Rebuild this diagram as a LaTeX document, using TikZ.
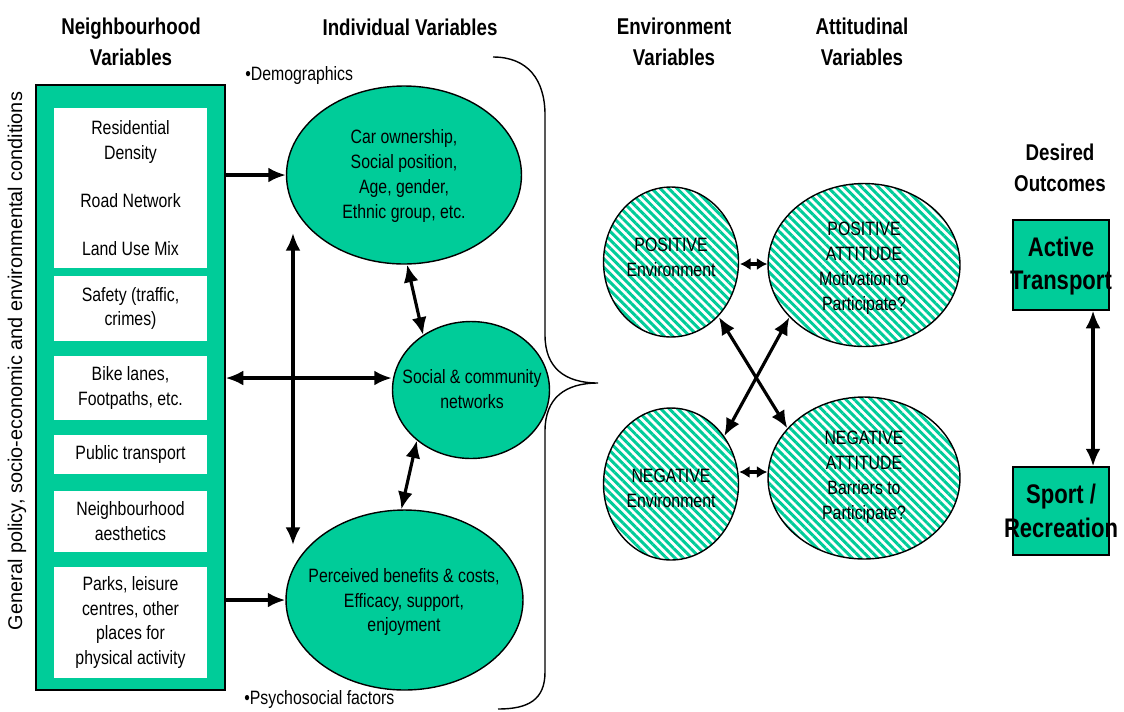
\documentclass[tikz,border=0pt]{standalone}
\usepackage{fontspec}
\setmainfont[FakeStretch=0.82]{Liberation Sans}
\newfontfamily\widefont{Liberation Sans}
\usepackage{tikz}
\usetikzlibrary{shapes.geometric,arrows.meta,patterns.meta}
\definecolor{envgreen}{RGB}{0,204,153}
\tikzset{
  var/.style={ellipse,draw,line width=0.8pt,fill=envgreen,inner sep=0pt},
  hatched/.style={ellipse,draw,line width=0.8pt,inner sep=0pt,
    pattern={Lines[angle=-45,distance=3.4pt,line width=1.7pt]},pattern color=envgreen},
  vartext/.style={inner sep=0pt,align=center},
  factor/.style={fill=white,minimum width=3.06cm,inner sep=0pt,align=center},
  head/.style={align=center,font=\bfseries\fontsize{13}{17.6}\selectfont},
  outcome/.style={align=center,inner sep=0pt,font=\bfseries\fontsize{15.3}{19.3}\selectfont},
  link/.style={line width=1.8pt,-{Latex[length=10pt,width=8.5pt]}},
  twoway/.style={line width=1.8pt,{Latex[length=10pt,width=8.5pt]}-{Latex[length=10pt,width=8.5pt]}},
  shortway/.style={line width=1.8pt,{Latex[length=6pt,width=7pt]}-{Latex[length=6pt,width=7pt]}},
}
\begin{document}
\begin{tikzpicture}[x=0.02cm,y=-0.02cm,font=\fontsize{11}{14.2}\selectfont]
\useasboundingbox (0,0) rectangle (1124,711);

% headings
\node[head] (hnbh) at (131,42) {Neighbourhood\\Variables};
\node[head] (hind) at (410,27) {Individual Variables};
\node[head] (henv) at (674,42) {Environment\\Variables};
\node[head] (hatt) at (862,42) {Attitudinal\\Variables};
\node[head] (hout) at (1060,168) {Desired\\Outcomes};

% neighbourhood variables
\node[draw,line width=0.8pt,fill=envgreen,minimum width=3.78cm,minimum height=12.1cm] (nbh) at (130.5,387.5) {};
\node[rotate=90,font=\widefont\fontsize{11.3}{13}\selectfont] (policy) at (17,361) {General policy, socio-economic and environmental conditions};
\node[factor,minimum height=3.2cm] (land) at (130.5,188) {Residential\\Density\\[0.46cm]Road Network\\[0.46cm]Land Use Mix};
\node[factor,minimum height=1.3cm] (safe) at (130.5,308.5) {Safety (traffic,\\crimes)};
\node[factor,minimum height=1.28cm] (bike) at (130.5,388) {Bike lanes,\\Footpaths, etc.};
\node[factor,minimum height=0.78cm] (bus) at (130.5,454.5) {Public transport};
\node[factor,minimum height=1.22cm] (look) at (130.5,521.5) {Neighbourhood\\aesthetics};
\node[factor,minimum height=2.22cm] (park) at (130.5,622.5) {Parks, leisure\\centres, other\\places for\\physical activity};

% individual variables
\node[anchor=west,inner sep=0pt] (demo) at (245,75) {•Demographics};
\node[anchor=west,inner sep=0pt] (psych) at (244,699) {•Psychosocial factors};
\node[var,minimum width=4.7cm,minimum height=3.56cm] (car) at (404,175) {};
\node[vartext] (cartext) at (404,176) {Car ownership,\\Social position,\\Age, gender,\\Ethnic group, etc.};
\node[var,minimum width=3.14cm,minimum height=2.74cm] (soc) at (471,390) {};
\node[vartext] (soctext) at (472,389) {Social \& community\\networks};
\node[var,minimum width=4.74cm,minimum height=3.6cm] (perc) at (404.5,600) {};
\node[vartext] (perctext) at (404,602) {Perceived benefits \& costs,\\Efficacy, support,\\enjoyment};

\draw[line width=0.8pt] (493,57) .. controls (528,57) and (545,80) .. (545,115) -- (545,335)
  .. controls (545,368) and (565,383) .. (598,383)
  .. controls (565,383) and (545,398) .. (545,431) -- (545,672)
  .. controls (545,700) and (528,709) .. (498,709);

% environment and attitudes
\node[hatched,minimum width=2.7cm,minimum height=3cm] (posenv) at (671,262) {};
\node[vartext] (posenvtext) at (671,257) {POSITIVE\\Environment};
\node[hatched,minimum width=3.84cm,minimum height=3.26cm] (posatt) at (864,265) {};
\node[vartext] (posatttext) at (864,268) {POSITIVE\\ATTITUDE\\Motivation to\\Participate?};
\node[hatched,minimum width=2.7cm,minimum height=3.04cm] (negenv) at (671,484) {};
\node[vartext] (negenvtext) at (671,488) {NEGATIVE\\Environment};
\node[hatched,minimum width=3.84cm,minimum height=3.24cm] (negatt) at (864,478) {};
\node[vartext] (negatttext) at (864,477) {NEGATIVE\\ATTITUDE\\Barriers to\\Participate?};

% outcomes
\node[draw,line width=0.8pt,fill=envgreen,minimum width=1.92cm,minimum height=1.8cm] (act) at (1061,265) {};
\node[outcome] (acttext) at (1061,266) {Active\\Transport};
\node[draw,line width=0.8pt,fill=envgreen,minimum width=1.92cm,minimum height=1.76cm] (sport) at (1061,511) {};
\node[outcome] (sporttext) at (1061,511) {Sport /\\Recreation};

% arrows
\coordinate (vtop) at (293,233);
\coordinate (vbot) at (293,545);
\draw[link] (nbh.east |- car.west) -- (car.west);
\draw[link] (nbh.east |- perc.west) -- (perc.west);
\draw[twoway] (nbh.east |- 0,378) -- (soc.west |- 0,378);
\draw[twoway] (vtop) -- (vbot);
\draw[twoway] (car.-88) -- (soc.131);
\draw[twoway] (soc.223) -- (perc.92);
\draw[shortway] (posenv.east |- 0,264) -- (posatt.west |- 0,264);
\draw[shortway] (negenv.east |- 0,472) -- (negatt.west |- 0,472);
\draw[twoway] (posenv.-49) -- (negatt.147);
\draw[twoway] (posatt.215) -- (negenv.42);
\draw[twoway] ([xshift=0.64cm]act.south) -- ([xshift=0.64cm]sport.north);
\end{tikzpicture}
\end{document}
